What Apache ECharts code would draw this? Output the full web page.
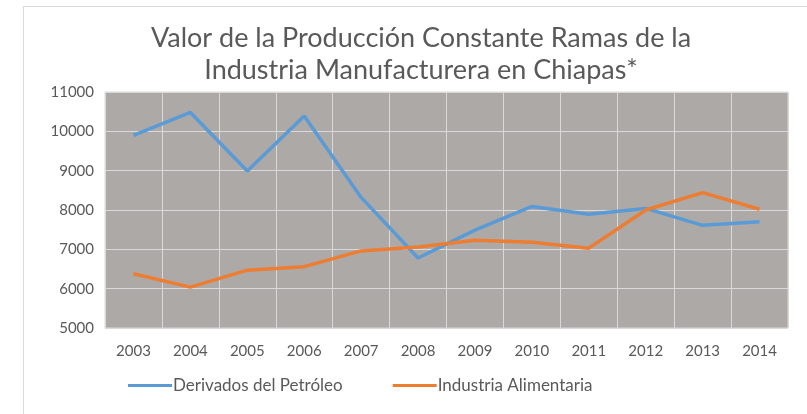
<!DOCTYPE html>
<html>
<head>
<meta charset="utf-8">
<script src="https://cdn.jsdelivr.net/npm/echarts@6/dist/echarts.min.js"></script>
<style>
  html, body { margin: 0; padding: 0; background: #fff; }
  #main { width: 807px; height: 414px; }
</style>
</head>
<body>
<div id="main"></div>
<script>
// datos
const years = ['2003', '2004', '2005', '2006', '2007', '2008', '2009', '2010', '2011', '2012', '2013', '2014'];
const derivadosPetroleo = [9900, 10480, 8990, 10390, 8320, 6780, 7490, 8090, 7890, 8040, 7610, 7700];
const industriaAlimentaria = [6380, 6040, 6470, 6560, 6960, 7060, 7230, 7180, 7030, 8000, 8440, 8020];

var myChart = echarts.init(document.getElementById('main'));

let txt = '#595959';
let font = 'Lato';

let option = {
  animation: false,
  title: {
    text: 'Valor de la Producción Constante Ramas de la\nIndustria Manufacturera en Chiapas*',
    left: 416,
    top: 17,
    textAlign: 'center',
    textStyle: {
      color: txt,
      fontFamily: font,
      fontWeight: 'normal',
      fontSize: 27,
      lineHeight: 32
    }
  },
  graphic: [{
    type: 'rect',
    shape: { x: 23.5, y: 6.5, width: 900, height: 500 },
    style: { fill: 'none', stroke: '#D9D9D9', lineWidth: 1 },
    silent: true
  }],
  legend: {
    bottom: 15,
    left: 123,
    icon: 'rect',
    itemWidth: 44,
    itemHeight: 3,
    itemGap: 50,
    textStyle: { color: txt, fontFamily: font, fontSize: 17, padding: [0, 0, 0, -4] }
  },
  grid: {
    left: 105,
    right: 19,
    top: 92,
    bottom: 86,
    show: true,
    backgroundColor: '#ADA9A7',
    borderColor: '#D9D9D9',
    borderWidth: 1
  },
  xAxis: {
    type: 'category',
    data: years,
    boundaryGap: true,
    axisLine: { show: false },
    axisTick: { show: false },
    axisLabel: { color: txt, fontFamily: font, fontSize: 15, margin: 16 },
    splitLine: { show: true, interval: 0, lineStyle: { color: '#D9D9D9', width: 1 } }
  },
  yAxis: {
    type: 'value',
    min: 5000,
    max: 11000,
    interval: 1000,
    axisLine: { show: false },
    axisTick: { show: false },
    axisLabel: {
      color: txt, fontFamily: font, fontSize: 15, margin: 11,
      formatter: function (v) { return String(v); }
    },
    splitLine: { lineStyle: { color: '#D9D9D9', width: 1 } }
  },
  series: [{
    name: 'Derivados del Petróleo',
    type: 'line',
    data: derivadosPetroleo,
    showSymbol: false,
    color: '#5B9BD5',
    lineStyle: { width: 3.5, color: '#5B9BD5' }
  }, {
    name: 'Industria Alimentaria',
    type: 'line',
    data: industriaAlimentaria,
    showSymbol: false,
    color: '#ED7D31',
    lineStyle: { width: 3.5, color: '#ED7D31' }
  }]
};

myChart.setOption(option);
</script>
</body>
</html>
